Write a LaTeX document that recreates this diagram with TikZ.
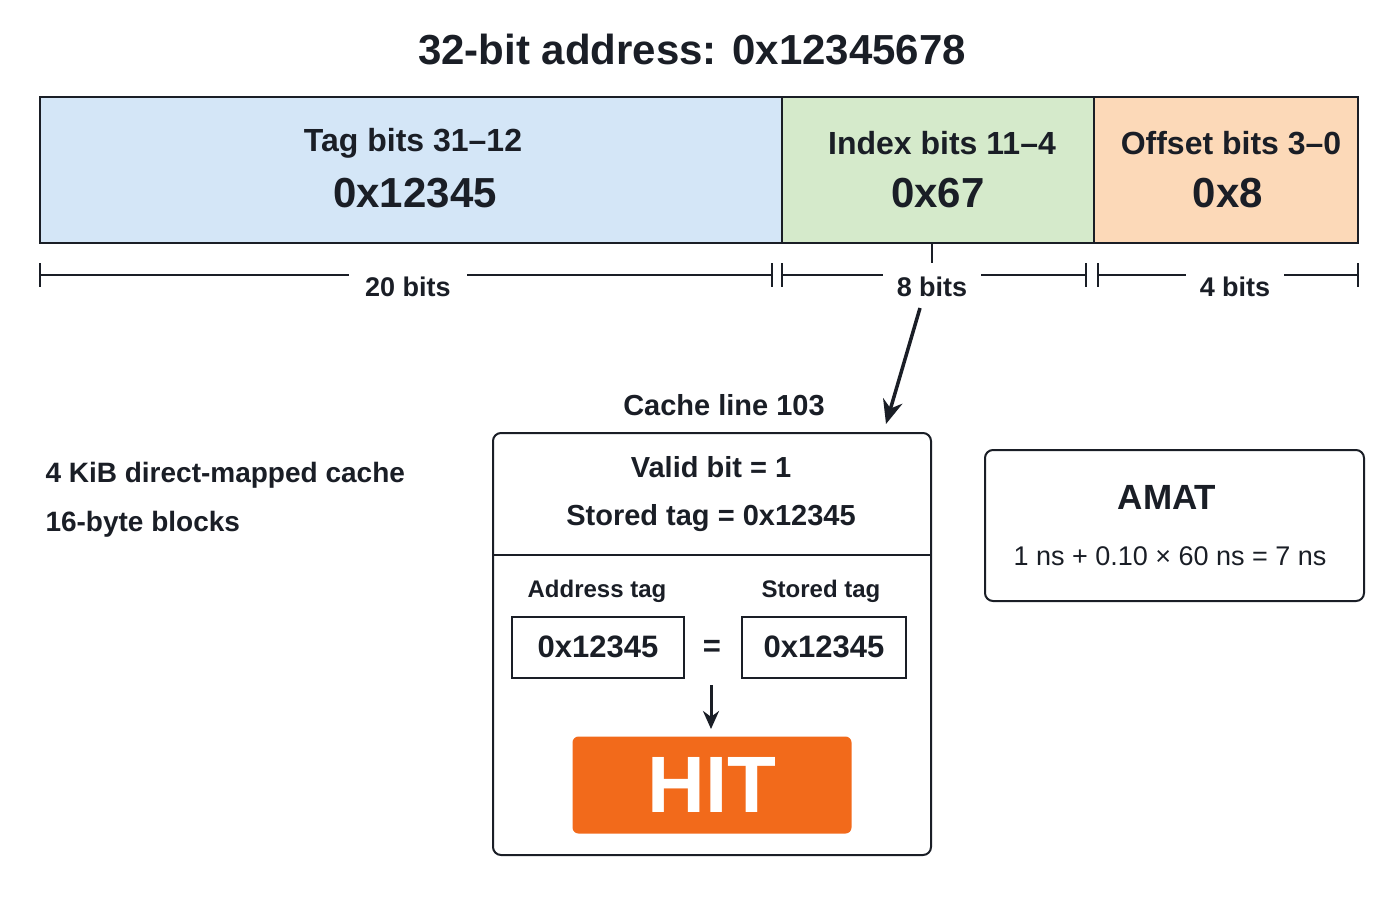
\documentclass[tikz,border=0pt]{standalone}
\usepackage{fontspec}
\setmainfont{Liberation Sans}
\usetikzlibrary{arrows.meta,calc}
\definecolor{tagc}{HTML}{D4E6F7}
\definecolor{idxc}{HTML}{D5EACB}
\definecolor{offc}{HTML}{FCD9B8}
\definecolor{hitc}{HTML}{F26A1B}
\definecolor{ink}{HTML}{1A1E26}
\begin{document}
\begin{tikzpicture}[x=1pt,y=-1pt,
  fld/.style={draw=ink,line width=2pt},
  lbl/.style={font=\fontsize{32}{36}\selectfont\bfseries,text=ink,align=center},
  val/.style={font=\fontsize{42}{46}\selectfont\bfseries,text=ink},
  dim/.style={font=\fontsize{27}{30}\selectfont\bfseries,text=ink,fill=white,inner sep=6pt},
  body/.style={font=\fontsize{29}{32}\selectfont\bfseries,text=ink},
  small/.style={font=\fontsize{24}{28}\selectfont\bfseries,text=ink},
  rbox/.style={draw=ink,line width=2pt,rounded corners=8pt},
  arr/.style={-{Stealth[length=24pt,width=20pt]},line width=3.5pt,ink}]
\useasboundingbox (0,0) rectangle (1400,900);
\node[font=\fontsize{42}{46}\selectfont\bfseries,text=ink] (title) at (692,50) {32-bit address: 0x12345678};
% fields
\draw[fld,fill=tagc] (40,97) rectangle (782,243);
\draw[fld,fill=idxc] (782,97) rectangle (1094,243);
\draw[fld,fill=offc] (1094,97) rectangle (1358,243);
\node[lbl] (tagl) at (413,143) {Tag bits 31–12};
\node[val] (tagv) at (415,193) {0x12345};
\node[lbl] (idxl) at (942,143) {Index bits 11–4};
\node[val] (idxv) at (938,193) {0x67};
\node[lbl] (offl) at (1231,143) {Offset bits 3–0};
\node[val] (offv) at (1228,193) {0x8};
% dimensions
\coordinate (d1a) at (40,275); \coordinate (d1b) at (772,275);
\coordinate (d2a) at (782,275); \coordinate (d2b) at (1086,275);
\coordinate (d3a) at (1098,275); \coordinate (d3b) at (1358,275);
\foreach \a/\b in {d1a/d1b,d2a/d2b,d3a/d3b}{
  \draw[ink,line width=1.8pt] (\a) -- (\b);
  \draw[ink,line width=1.8pt] ($(\a)+(0,-12)$) -- ($(\a)+(0,12)$);
  \draw[ink,line width=1.8pt] ($(\b)+(0,-12)$) -- ($(\b)+(0,12)$);
}
\node[dim,inner xsep=16pt] (b20) at (408,287) {20 bits};
\node[dim,inner xsep=14pt] (b8) at (932,287) {8 bits};
\node[dim,inner xsep=14pt] (b4) at (1235,287) {4 bits};
\coordinate (itick) at (932,243);
\coordinate (itickb) at (932,263);
\draw[ink,line width=1.8pt] (itick) -- (itickb);
% arrow to cache line
\coordinate (as) at (920,308);
\coordinate (ae) at (886,424);
\draw[arr] (as) -- (ae);
\node[body] (cl) at (724,405) {Cache line 103};
% cache box
\draw[rbox] (493,433) rectangle (931,855);
\draw[ink,line width=2pt] (493,555) -- (931,555);
\node[body] (valid) at (711,467) {Valid bit = 1};
\node[body] (stag) at (711,518) {Stored tag = 0x12345};
\node[small] (at) at (597,591) {Address tag};
\node[small] (st) at (821,591) {Stored tag};
\node[draw=ink,line width=2pt,minimum width=172pt,minimum height=61pt,font=\fontsize{31}{34}\selectfont\bfseries,text=ink] (atv) at (598,647) {0x12345};
\node[draw=ink,line width=2pt,minimum width=164pt,minimum height=61pt,font=\fontsize{31}{34}\selectfont\bfseries,text=ink] (stv) at (824,647) {0x12345};
\node[font=\fontsize{31}{34}\selectfont\bfseries,text=ink] (eq) at (712,648) {=};
\node[fill=hitc,rounded corners=6pt,minimum width=279pt,minimum height=97pt,text=white,font=\fontsize{80}{84}\selectfont\bfseries] (hit) at (712,785) {HIT};
\coordinate (ds) at (711,685);
\coordinate (de) at (711,729);
\draw[arr,-{Stealth[length=18pt,width=16pt]},line width=3pt] (ds) -- (de);
% left text
\node[body,anchor=west,font=\fontsize{28}{32}\selectfont\bfseries] (n1) at (42,475) {4 KiB direct-mapped cache};
\node[body,anchor=west,font=\fontsize{28}{32}\selectfont\bfseries] (n2) at (42,524) {16-byte blocks};
% AMAT
\draw[rbox] (985,450) rectangle (1364,601);
\node[font=\fontsize{35}{38}\selectfont\bfseries,text=ink] (amat) at (1167,497) {AMAT};
\node[font=\fontsize{27}{30}\selectfont,text=ink] (amatf) at (1170,556) {1 ns + 0.10 × 60 ns = 7 ns};
\end{tikzpicture}
\end{document}
